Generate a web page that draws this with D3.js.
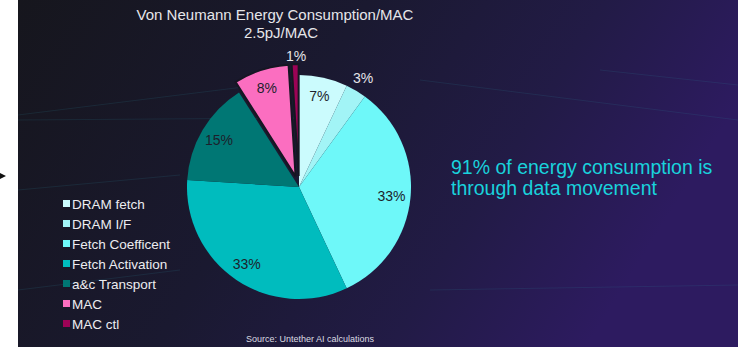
<!DOCTYPE html>
<html>
<head>
<meta charset="utf-8">
<script src="https://cdn.jsdelivr.net/npm/d3@7"></script>
<style>
  body { margin: 0; background: #fff; }
  svg { display: block; font-family: "Liberation Sans", Arial, sans-serif; }
</style>
</head>
<body>
<div id="chart"></div>
<script>
// VON NEUMANN ENERGY PIE

var categories = ["DRAM fetch", "DRAM I/F", "Fetch Coefficent", "Fetch Activation", "a&c Transport", "MAC", "MAC ctl"];
var values = [7, 3, 33, 33, 15, 8, 1];
var colors = ["#cbfbfd", "#a2f4f6", "#6ef8f9", "#00bcbe", "#007774", "#fb6ec0", "#9c0356"];
var exploded = ["MAC", "MAC ctl"];
var outsideLabels = ["DRAM I/F", "MAC ctl"];

var width = 738, height = 348;

var svg = d3.select("#chart").append("svg")
    .attr("width", width)
    .attr("height", height);

var defs = svg.append("defs");
var grad = defs.append("linearGradient").attr("id", "bg").attr("x1", "0").attr("x2", "1").attr("y1", "0").attr("y2", "0.3");
grad.append("stop").attr("offset", "0%").attr("stop-color", "#16161d");
grad.append("stop").attr("offset", "45%").attr("stop-color", "#1a1930");
grad.append("stop").attr("offset", "75%").attr("stop-color", "#221b46");
grad.append("stop").attr("offset", "100%").attr("stop-color", "#2d1b60");

// background panel with white strip on the left
svg.append("rect").attr("width", width).attr("height", height).attr("fill", "#fff");
svg.append("rect")
    .attr("x", 18).attr("y", 0)
    .attr("width", width - 18).attr("height", height - 1)
    .attr("fill", "url(#bg)");

// faint decorative lines
var deco = svg.append("g").attr("stroke", "#2f8fa0").attr("stroke-opacity", 0.15).attr("stroke-width", 1);
[[18, 115, 300, 80], [18, 120, 300, 118], [18, 190, 180, 175], [420, 80, 738, 120], [430, 290, 738, 285], [600, 70, 738, 85], [18, 290, 180, 270]]
    .forEach(function(l) {
        deco.append("line").attr("x1", l[0]).attr("y1", l[1]).attr("x2", l[2]).attr("y2", l[3]);
    });

// little arrow on the white strip
svg.append("path").attr("d", "M0,173 L6,176 L0,179 Z").attr("fill", "#111");

var color = d3.scaleOrdinal(categories, colors);

var cx = 299, cy = 187, r = 112, explode = 11;

var data = categories.map(function(c, i) { return {name: c, value: values[i]}; });

var pie = d3.pie().sort(null).value(function(d) { return d.value; });
var arcs = pie(data);

var arc = d3.arc().innerRadius(0).outerRadius(r);
var labelArc = d3.arc().innerRadius(r * 0.83).outerRadius(r * 0.83);
var outerArc = d3.arc().innerRadius(r + 14).outerRadius(r + 14);

var g = svg.append("g").attr("transform", "translate(" + cx + "," + cy + ")");

g.selectAll("path")
    .data(arcs)
    .join("path")
    .attr("d", arc)
    .attr("fill", function(d) { return color(d.data.name); })
    .attr("stroke", function(d) { return exploded.indexOf(d.data.name) >= 0 ? "#161622" : "none"; })
    .attr("stroke-width", 2)
    .attr("transform", function(d) {
        if (exploded.indexOf(d.data.name) < 0) return null;
        var a = (d.startAngle + d.endAngle) / 2;
        return "translate(" + (Math.sin(a) * explode) + "," + (-Math.cos(a) * explode) + ")";
    });

g.selectAll("text.pct")
    .data(arcs)
    .join("text")
    .attr("class", "pct")
    .attr("text-anchor", "middle")
    .attr("dy", "0.35em")
    .style("font-size", "14px")
    .attr("fill", function(d) { return outsideLabels.indexOf(d.data.name) >= 0 ? "#e4e4ea" : "#1d1f2c"; })
    .attr("transform", function(d) {
        var p;
        if (d.data.name == "MAC ctl") {
            p = [-3, -r - explode - 8];
        } else if (outsideLabels.indexOf(d.data.name) >= 0) {
            p = outerArc.centroid(d);
        } else {
            p = labelArc.centroid(d);
            if (exploded.indexOf(d.data.name) >= 0) {
                var a = (d.startAngle + d.endAngle) / 2;
                p = [p[0] + Math.sin(a) * explode, p[1] - Math.cos(a) * explode];
            }
        }
        return "translate(" + p + ")";
    })
    .text(function(d) { return d.data.value + "%"; });

// title
svg.append("text")
    .attr("x", 275).attr("y", 20)
    .attr("text-anchor", "middle")
    .attr("fill", "#e6e6ea")
    .style("font-size", "15px")
    .text("Von Neumann Energy Consumption/MAC");
svg.append("text")
    .attr("x", 281).attr("y", 38)
    .attr("text-anchor", "middle")
    .attr("fill", "#e6e6ea")
    .style("font-size", "15px")
    .text("2.5pJ/MAC");

// legend
var legend = svg.append("g").attr("transform", "translate(63,204)");
var row = legend.selectAll("g")
    .data(categories)
    .join("g")
    .attr("transform", function(d, i) { return "translate(0," + (i * 20) + ")"; });
row.append("rect")
    .attr("x", 0).attr("y", -4)
    .attr("width", 7).attr("height", 7)
    .attr("fill", function(d) { return color(d); });
row.append("text")
    .attr("x", 9).attr("y", 0)
    .attr("dy", "0.35em")
    .attr("fill", "#ececf0")
    .style("font-size", "13.5px")
    .text(function(d) { return d; });

// callout
var callout = ["91% of energy consumption is", "through data movement"];
svg.selectAll("text.callout")
    .data(callout)
    .join("text")
    .attr("class", "callout")
    .attr("x", 451)
    .attr("y", function(d, i) { return 173.5 + i * 21.5; })
    .attr("fill", "#19d2dc")
    .style("font-size", "19.5px")
    .text(function(d) { return d; });

// source
svg.append("text")
    .attr("x", 310).attr("y", 342)
    .attr("text-anchor", "middle")
    .attr("fill", "#dcdce2")
    .style("font-size", "9px")
    .text("Source: Untether AI calculations");
</script>
</body>
</html>
